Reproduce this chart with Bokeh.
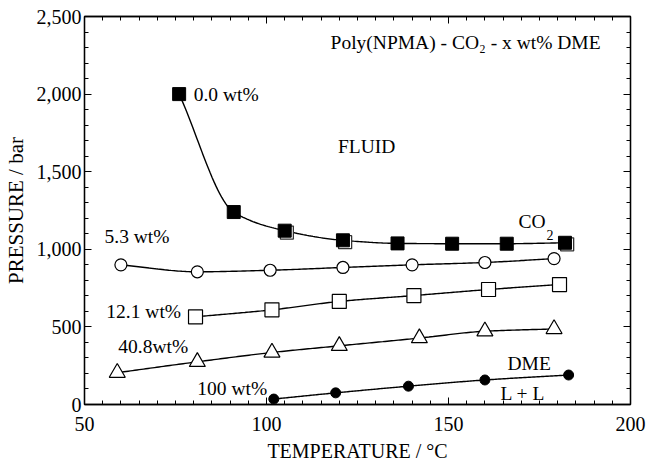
import numpy as np
from bokeh.plotting import figure
from bokeh.models import (LinearAxis, Range1d, NumeralTickFormatter, FixedTicker,
                          ColumnDataSource, CustomLabelingPolicy)
from bokeh.core.properties import value
from bokeh.embed import file_html
from bokeh.resources import INLINE

# ---- data ----
t_00 = [76, 91, 105, 121, 136, 151, 166, 182]
p_00 = [2000, 1240, 1120, 1058, 1038, 1036, 1036, 1042]
t_00_open = [105.6, 121.6, 182.6]
p_00_open = [1108, 1046, 1032]

t_53 = [60, 81, 101, 121, 140, 160, 179]
p_53 = [900, 855, 865, 883, 900, 915, 940]

t_121 = [80.5, 101.5, 120, 140.5, 161, 180.5]
p_121 = [565, 610, 664, 702, 741, 773]

t_408 = [59, 81, 101.5, 120, 142, 160, 179]
p_408 = [205, 275, 335, 378, 428, 472, 487]

t_100 = [102, 119, 139, 160, 183]
p_100 = [35, 75, 118, 158, 190]

x_ticks = [50, 100, 150, 200]
y_ticks = [0, 500, 1000, 1500, 2000, 2500]
x_minor = list(range(50, 201, 5))
y_minor = list(range(0, 2501, 100))

FONT = "Liberation Serif"


def pchip(x, y, n=200):
    """Smooth monotone cubic curve through the given points (for drawing only)."""
    x = np.asarray(x, float)
    y = np.asarray(y, float)
    h = np.diff(x)
    d = np.diff(y) / h
    m = np.zeros_like(y)
    m[0], m[-1] = d[0], d[-1]
    for i in range(1, len(x) - 1):
        if d[i - 1] * d[i] <= 0:
            m[i] = 0.0
        else:
            w1 = 2 * h[i] + h[i - 1]
            w2 = h[i] + 2 * h[i - 1]
            m[i] = (w1 + w2) / (w1 / d[i - 1] + w2 / d[i])
    xs = np.linspace(x[0], x[-1], n)
    idx = np.clip(np.searchsorted(x, xs) - 1, 0, len(x) - 2)
    hh = h[idx]
    s = (xs - x[idx]) / hh
    h00 = 2 * s**3 - 3 * s**2 + 1
    h10 = s**3 - 2 * s**2 + s
    h01 = -2 * s**3 + 3 * s**2
    h11 = s**3 - s**2
    ys = h00 * y[idx] + h10 * hh * m[idx] + h01 * y[idx + 1] + h11 * hh * m[idx + 1]
    return xs, ys


p = figure(width=660, height=465, output_backend="svg", toolbar_location=None,
           x_range=Range1d(50, 200), y_range=Range1d(0, 2500),
           min_border_left=84, min_border_right=30, min_border_top=16, min_border_bottom=61,
           background_fill_color="white", border_fill_color="white")
p.grid.visible = False
p.outline_line_color = "black"
p.outline_line_width = 1.3


def style_axis(ax):
    ax.axis_line_color = "black"
    ax.axis_line_width = 1.3
    ax.major_tick_in = 7
    ax.major_tick_out = 0
    ax.minor_tick_in = 4
    ax.minor_tick_out = 0
    ax.major_tick_line_color = "black"
    ax.minor_tick_line_color = "black"
    ax.major_label_text_font = FONT
    ax.major_label_text_font_size = "20px"
    ax.major_label_text_color = "black"
    ax.axis_label_text_font = FONT
    ax.axis_label_text_font_style = "normal"
    ax.axis_label_text_font_size = "20px"
    ax.axis_label_text_color = "black"


p.xaxis.ticker = FixedTicker(ticks=x_ticks, minor_ticks=x_minor)
p.yaxis.ticker = FixedTicker(ticks=y_ticks, minor_ticks=y_minor)
p.yaxis.formatter = NumeralTickFormatter(format="0,0")
p.xaxis.axis_label = "TEMPERATURE / °C"
p.yaxis.axis_label = "PRESSURE / bar"
style_axis(p.xaxis[0])
style_axis(p.yaxis[0])
p.yaxis.axis_label_text_font_size = "21px"
p.xaxis.major_label_standoff = 12
p.yaxis.major_label_standoff = 3
p.xaxis.axis_label_standoff = 6
p.yaxis.axis_label_standoff = 6

# mirrored tick marks on top and right, without labels
no_labels = CustomLabelingPolicy(code="""
const n = indices.size
for (let i = 0; i < n; i++) indices.unset(i)
return indices
""")
top = LinearAxis(ticker=FixedTicker(ticks=x_ticks, minor_ticks=x_minor))
right = LinearAxis(ticker=FixedTicker(ticks=y_ticks, minor_ticks=y_minor))
for ax in (top, right):
    style_axis(ax)
    ax.major_label_policy = no_labels
    ax.major_label_text_font_size = "2px"
    ax.major_label_standoff = 0
p.add_layout(top, "above")
p.add_layout(right, "right")

LW = 1.4
for tx, py in [(t_00, p_00), (t_53, p_53), (t_121, p_121), (t_408, p_408), (t_100, p_100)]:
    xs, ys = pchip(tx, py)
    p.line(xs, ys, line_color="black", line_width=LW)

# markers
p.scatter(t_00_open, p_00_open, marker="square", size=13, fill_color="white",
          line_color="#333333", line_width=1.3)
p.scatter(t_00, p_00, marker="square", size=13, fill_color="black", line_color="black")
p.scatter(t_53, p_53, marker="circle", size=12, fill_color="white", line_color="black", line_width=1.2)
p.scatter(t_121, p_121, marker="square", size=14, fill_color="white", line_color="black", line_width=1.2)
p.scatter(t_408, p_408, marker="triangle", size=16, fill_color="white", line_color="black", line_width=1.2)
p.scatter(t_100, p_100, marker="circle", size=10, fill_color="black", line_color="black")

# annotations
lab_x = [80, 55.5, 56, 59.3, 81, 166.2, 164.3, 127.5, 117.6, 169.2]
lab_y = [2000, 1082, 599, 374, 103, 264, 71, 1662, 2332, 1179]
lab_t = ["0.0 wt%", "5.3 wt%", "12.1 wt%", "40.8wt%", "100 wt%", "DME", "L + L", "FLUID",
         "Poly(NPMA) - CO\u2082 - x wt% DME", "CO"]
lab_a = ["left"] * 7 + ["center", "left", "left"]
src = ColumnDataSource(dict(x=lab_x, y=lab_y, t=lab_t, a=lab_a))
p.text(x="x", y="y", text="t", text_align="a", text_baseline="middle", source=src,
       text_font=value(FONT), text_font_size="19.5px", text_color="black")
p.text(x=[176.9], y=[1090], text=["2"], text_align="left", text_baseline="middle",
       text_font=value(FONT), text_font_size="14px", text_color="black")

open("out.html", "w").write(file_html(p, INLINE))
